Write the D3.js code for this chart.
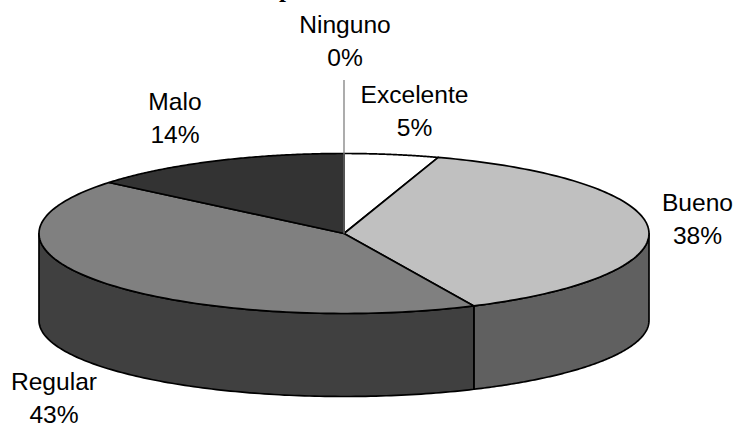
<!DOCTYPE html>
<html>
<head>
<meta charset="utf-8">
<script src="https://cdn.jsdelivr.net/npm/d3@7"></script>
<style>
html,body{margin:0;padding:0;background:#fff;overflow:hidden}
svg{display:block}
text{font-family:"Liberation Sans",Arial,sans-serif;font-size:24.6px;fill:#000;text-anchor:middle}
text.heading{font-family:"Liberation Serif","Times New Roman",serif;font-weight:bold;font-size:25px;text-anchor:start}
</style>
</head>
<body>
<svg id="chart" width="733" height="423"></svg>
<script>
const categories = ["Excelente", "Bueno", "Regular", "Malo", "Ninguno"];
const percents = [5, 38, 43, 14, 0];
const topColors = ["#ffffff", "#c0c0c0", "#808080", "#333333", "#000000"];
const sideColors = ["#808080", "#606060", "#404040", "#1a1a1a", "#000000"];
const labelAnchors = [[414.5, 103], [697.5, 211], [54, 390], [175, 110], [345, 33]];

const cx = 344, cy = 233.5, rx = 305, ry = 80;
const floorDrop = 87, floorRy = 76;
const lineGap = 33;
const svg = d3.select("#chart");

const pie = d3.pie().sort(null).value(d => d);
const arcs = pie(percents);

// The unit circle is flattened through these scales to tilt the pie;
// the lower rim is a little flatter than the upper one, for perspective.
const px = d3.scaleLinear().domain([-1, 1]).range([cx - rx, cx + rx]);
const pyTop = d3.scaleLinear().domain([-1, 1]).range([cy - ry, cy + ry]);
const pyBottom = d3.scaleLinear().domain([-1, 1])
  .range([cy + floorDrop - floorRy, cy + floorDrop + floorRy]);
const rim = (a, py) => [px(Math.sin(a)), py(-Math.cos(a))];
const sweep = (a0, a1, py) =>
  d3.range(0, 121).map(i => rim(a0 + (a1 - a0) * i / 120, py));
const line = d3.line();

// Side wall: only the part of each slice on the near half is visible.
arcs.forEach((d, i) => {
  const a0 = Math.max(d.startAngle, Math.PI / 2);
  const a1 = Math.min(d.endAngle, Math.PI * 3 / 2);
  if (a1 <= a0) return;
  const pts = sweep(a0, a1, pyTop).concat(sweep(a0, a1, pyBottom).reverse());
  svg.append("path")
    .attr("d", line(pts) + "Z")
    .attr("fill", sideColors[i])
    .attr("stroke", "#000")
    .attr("stroke-width", 1.7)
    .attr("stroke-linejoin", "round");
});

// Top face of every slice.
arcs.forEach((d, i) => {
  if (d.endAngle <= d.startAngle) return;
  const pts = [[cx, cy]].concat(sweep(d.startAngle, d.endAngle, pyTop));
  svg.append("path")
    .attr("d", line(pts) + "Z")
    .attr("fill", topColors[i])
    .attr("stroke", "#000")
    .attr("stroke-width", 1.7)
    .attr("stroke-linejoin", "round");
});

// Leader line for the empty slice.
svg.append("line")
  .attr("x1", cx).attr("x2", cx)
  .attr("y1", 80).attr("y2", cy)
  .attr("stroke", "#808080").attr("stroke-width", 1.3);

// Heading sits above the top edge, so only a descender shows.
svg.append("text").attr("class", "heading")
  .attr("x", 279).attr("y", -3).text("p");

// Category name above its percentage.
categories.forEach((c, i) => {
  const [x, y] = labelAnchors[i];
  const t = svg.append("text").attr("x", x).attr("y", y);
  t.append("tspan").attr("x", x).text(c);
  t.append("tspan").attr("x", x).attr("dy", lineGap).text(percents[i] + "%");
});
</script>
</body>
</html>
